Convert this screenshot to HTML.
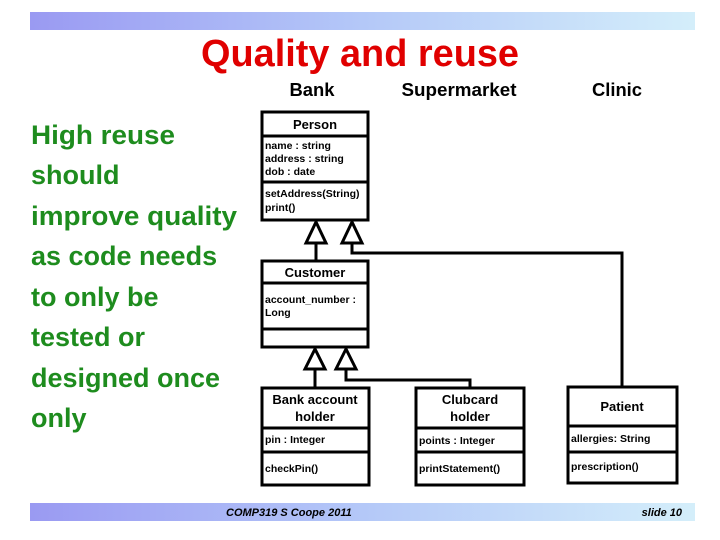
<!DOCTYPE html>
<html><head><meta charset="utf-8"><style>
html,body{margin:0;padding:0;background:#fff;}
svg{display:block;}
text{font-family:"Liberation Sans",Arial,sans-serif;}
</style></head><body>
<svg width="720" height="540" viewBox="0 0 720 540" xmlns="http://www.w3.org/2000/svg">
<defs>
<linearGradient id="g" x1="0" x2="1" y1="0" y2="0">
<stop offset="0" stop-color="#9a9af2"/><stop offset="0.5" stop-color="#b4c8f8"/><stop offset="1" stop-color="#d4eefa"/>
</linearGradient>
</defs>
<rect x="30" y="12" width="665" height="18" fill="url(#g)"/>
<rect x="30" y="503" width="665" height="18" fill="url(#g)"/>
<text x="360" y="66" text-anchor="middle" font-size="38" font-weight="bold" fill="#e00000" textLength="318" lengthAdjust="spacingAndGlyphs">Quality and reuse</text>
<g font-size="18" font-weight="bold" fill="#000">
<text x="312" y="96" text-anchor="middle" textLength="45" lengthAdjust="spacingAndGlyphs">Bank</text>
<text x="459" y="96" text-anchor="middle" textLength="115" lengthAdjust="spacingAndGlyphs">Supermarket</text>
<text x="617" y="96" text-anchor="middle" textLength="50" lengthAdjust="spacingAndGlyphs">Clinic</text>
</g>
<g font-size="27" font-weight="bold" fill="#1e8c1e">
<text x="31" y="144" textLength="144" lengthAdjust="spacingAndGlyphs">High reuse</text>
<text x="31" y="184">should</text>
<text x="31" y="225" textLength="206" lengthAdjust="spacingAndGlyphs">improve quality</text>
<text x="31" y="265">as code needs</text>
<text x="31" y="306">to only be</text>
<text x="31" y="346">tested or</text>
<text x="31" y="387">designed once</text>
<text x="31" y="427">only</text>
</g>
<g stroke="#000" stroke-width="3" fill="none">
<path d="M316 243 V261"/>
<path d="M352 243 V253 H622 V387"/>
<path d="M315 369 V388"/>
<path d="M346 369 V380 H470 V388"/>
<polygon points="316,222 306,243 326,243" fill="#fff"/>
<polygon points="352,222 342,243 362,243" fill="#fff"/>
<polygon points="315,349 305,369 325,369" fill="#fff"/>
<polygon points="346,349 336,369 356,369" fill="#fff"/>
<rect x="262" y="112" width="106" height="108" fill="#fff"/>
<path d="M262 136 H368 M262 182 H368"/>
<rect x="262" y="261" width="106" height="86" fill="#fff"/>
<path d="M262 283 H368 M262 329 H368"/>
<rect x="262" y="388" width="107" height="97" fill="#fff"/>
<path d="M262 428 H369 M262 452 H369"/>
<rect x="416" y="388" width="108" height="97" fill="#fff"/>
<path d="M416 428 H524 M416 452 H524"/>
<rect x="568" y="387" width="109" height="96" fill="#fff"/>
<path d="M568 426 H677 M568 452 H677"/>
</g>
<g font-size="13" font-weight="bold" fill="#000" text-anchor="middle">
<text x="315" y="129">Person</text>
<text x="315" y="277">Customer</text>
<text x="315" y="404">Bank account</text>
<text x="315" y="421">holder</text>
<text x="470" y="404">Clubcard</text>
<text x="470" y="421">holder</text>
<text x="622" y="411">Patient</text>
</g>
<g font-size="10.5" font-weight="bold" fill="#000">
<text x="265" y="149">name : string</text>
<text x="265" y="162">address : string</text>
<text x="265" y="175">dob : date</text>
<text x="265" y="197">setAddress(String)</text>
<text x="265" y="211">print()</text>
<text x="265" y="303">account_number :</text>
<text x="265" y="316">Long</text>
<text x="265" y="443">pin : Integer</text>
<text x="265" y="472">checkPin()</text>
<text x="419" y="444">points : Integer</text>
<text x="419" y="472">printStatement()</text>
<text x="571" y="442">allergies: String</text>
<text x="571" y="470">prescription()</text>
</g>
<g font-size="11" font-weight="bold" font-style="italic" fill="#000">
<text x="226" y="516">COMP319 S Coope 2011</text>
<text x="682" y="516" text-anchor="end">slide 10</text>
</g>
</svg>
</body></html>
